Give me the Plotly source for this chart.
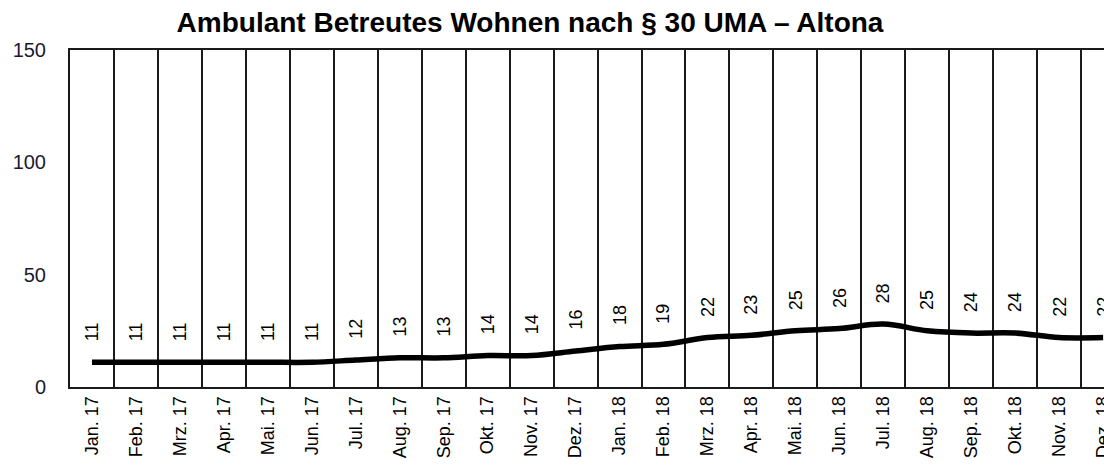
import plotly.graph_objects as go

categories = ["Jan. 17", "Feb. 17", "Mrz. 17", "Apr. 17", "Mai. 17", "Jun. 17",
              "Jul. 17", "Aug. 17", "Sep. 17", "Okt. 17", "Nov. 17", "Dez. 17",
              "Jan. 18", "Feb. 18", "Mrz. 18", "Apr. 18", "Mai. 18", "Jun. 18",
              "Jul. 18", "Aug. 18", "Sep. 18", "Okt. 18", "Nov. 18", "Dez. 18"]
values = [11, 11, 11, 11, 11, 11, 12, 13, 13, 14, 14, 16,
          18, 19, 22, 23, 25, 26, 28, 25, 24, 24, 22, 22]
y_ticks = [0, 50, 100, 150]
title = "Ambulant Betreutes Wohnen nach § 30 UMA – Altona"

FONT = "Liberation Sans, Arial, sans-serif"
idx = list(range(len(categories)))

fig = go.Figure()
fig.add_trace(go.Scatter(
    x=idx, y=values, mode="lines",
    line=dict(color="black", width=5.5, shape="spline", smoothing=1.0),
    hoverinfo="skip", showlegend=False,
))

for i, v in zip(idx, values):
    fig.add_annotation(
        x=i, y=v, text=str(v), textangle=-90, showarrow=False,
        yshift=31, font=dict(family=FONT, size=18, color="black"),
        xanchor="center", yanchor="middle",
    )

fig.update_layout(
    width=1104, height=468,
    margin=dict(l=70, r=0, t=50, b=81),
    paper_bgcolor="white", plot_bgcolor="white",
    title=dict(text="<b>" + title + "</b>", x=530 / 1104, xanchor="center",
               y=1 - 22 / 468, yanchor="middle",
               font=dict(family=FONT, size=28, color="black")),
    xaxis=dict(
        tickmode="array", tickvals=idx, ticktext=categories,
        tickangle=-90, range=[-0.5, 23.02], automargin=False,
        ticklabeloverflow="allow",
        showgrid=False, showline=True, linecolor="#1a1a1a", linewidth=2,
        mirror=True, ticks="", zeroline=False,
        tickfont=dict(family=FONT, size=18, color="black"),
        minor=dict(tickmode="array", tickvals=[i + 0.5 for i in idx[:-1]],
                   showgrid=True, gridcolor="#1a1a1a", gridwidth=2, ticks=""),
    ),
    yaxis=dict(
        range=[0, 150], tickmode="array", tickvals=y_ticks, automargin=False,
        showgrid=False, showline=True, linecolor="#1a1a1a", linewidth=2,
        zeroline=False, ticks="", ticklabelstandoff=18,
        tickfont=dict(family=FONT, size=20, color="#1a1a2e"),
    ),
)

fig.write_html(
    "out.html",
    config={"displayModeBar": False, "staticPlot": True},
    post_script="document.body.style.margin='0';document.body.style.overflow='hidden';",
)
